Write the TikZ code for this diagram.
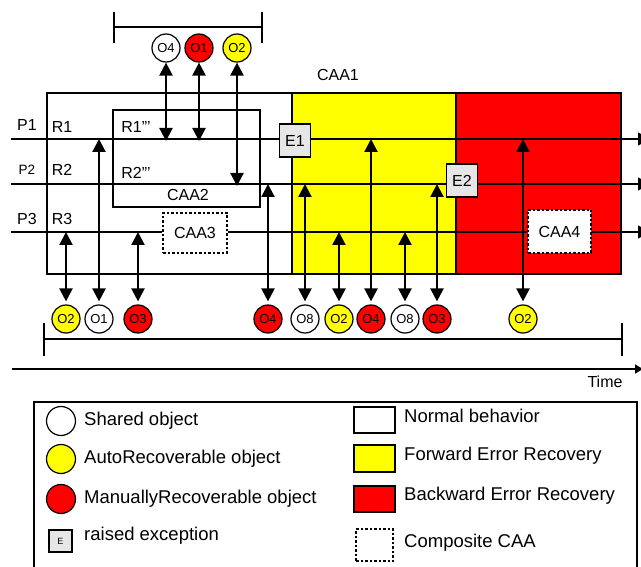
\documentclass[tikz,border=0pt]{standalone}
\usepackage{fontspec}
\setmainfont{Liberation Sans}
\usetikzlibrary{arrows.meta}
\definecolor{ferfill}{HTML}{FFFF00}
\definecolor{berfill}{HTML}{FF0000}
\definecolor{excfill}{HTML}{E6E6E6}

\tikzset{
  obj/.style={circle, draw, line width=1.2pt, minimum size=28pt, inner sep=0pt,
              font=\fontsize{13}{13}\selectfont},
  sharedobj/.style={obj, fill=white},
  autoobj/.style={obj, fill=ferfill},
  manualobj/.style={obj, fill=berfill},
  excbox/.style={draw, fill=excfill, line width=1.2pt, minimum width=31pt,
                 minimum height=33pt, inner sep=0pt, font=\fontsize{16}{16}\selectfont},
  compbox/.style={draw, fill=white, line width=1.2pt, dash pattern=on 2.5pt off 2pt,
                  inner sep=0pt, font=\fontsize{16}{16}\selectfont},
  lbl/.style={inner sep=0pt, font=\fontsize{16}{16}\selectfont},
  smalllbl/.style={inner sep=0pt, font=\fontsize{13.5}{13.5}\selectfont},
  leglbl/.style={inner sep=0pt, anchor=west, font=\fontsize{18.5}{18.5}\selectfont},
  region/.style={draw, line width=1.2pt},
  flow/.style={line width=1.2pt, -{Triangle[length=12pt,width=13pt]}},
  access/.style={line width=2.2pt,
                 {Triangle[length=13pt,width=13pt]}-{Triangle[length=13pt,width=13pt]}},
  bracket/.style={line width=2.5pt},
}

\begin{document}
\begin{tikzpicture}[x=1pt, y=-1pt]
\useasboundingbox (0,0) rectangle (641,567);

% ---- behaviour regions of CAA1 ----
\draw[region, fill=white]    (47,93)  rectangle (292,274);
\draw[region, fill=ferfill]  (292,93) rectangle (456,274);
\draw[region, fill=berfill]  (456,93) rectangle (621,274);
\node[lbl] (caa1) at (338,75) {CAA1};

% nested CAA2
\draw[region] (113,110) rectangle (260,207);
\node[lbl] (caa2) at (188,195) {CAA2};
\node[lbl] (r1n) at (136,127) {R1'''};
\node[lbl] (r2n) at (136,173) {R2'''};

% participants and roles
\node[lbl] (p1) at (27,125) {P1};
\node[lbl] (r1) at (62,127) {R1};
\node[smalllbl] (p2) at (27,170) {P2};
\node[lbl] (r2) at (62,170) {R2};
\node[lbl] (p3) at (27,219) {P3};
\node[lbl] (r3) at (62,219) {R3};

% exceptions and composite CAAs
\node[excbox] (e1) at (295,140.5) {E1};
\node[excbox] (e2) at (462,180.5) {E2};
\node[compbox, minimum width=64pt, minimum height=40pt] (caa3) at (195,233) {CAA3};
\node[compbox, minimum width=63pt, minimum height=43pt] (caa4) at (559.5,231.5) {CAA4};

% process lines
\coordinate (p1s) at (11,139);  \coordinate (p1e) at (650,139);
\coordinate (p2s) at (11,184);  \coordinate (p2e) at (650,184);
\coordinate (p3s) at (11,232);  \coordinate (p3e) at (650,232);
\draw[line width=1.2pt] (p1s) -- (p1s -| e1.west);
\draw[flow] (p1s -| e1.east) -- (p1e);
\draw[line width=1.2pt] (p2s) -- (p2s -| e2.west);
\draw[flow] (p2s -| e2.east) -- (p2e);
\draw[line width=1.2pt] (p3s) -- (p3s -| caa3.west);
\draw[line width=1.2pt] (p3s -| caa3.east) -- (p3s -| caa4.west);
\draw[flow] (p3s -| caa4.east) -- (p3e);

% objects bound to CAA2
\draw[bracket] (114,27) -- (262,27);
\coordinate (tl) at (114,12); \coordinate (tlb) at (114,43);
\coordinate (tr) at (262,12); \coordinate (trb) at (262,43);
\draw[bracket] (tl) -- (tlb);
\draw[bracket] (tr) -- (trb);
\node[sharedobj] (t1) at (166,48) {O4};
\node[manualobj] (t2) at (199,48) {O1};
\node[autoobj]   (t3) at (237,48) {O2};
\draw[access] (t1.south) -- ([yshift=-2pt]t1.south |- p1s);
\draw[access] (t2.south) -- ([yshift=-2pt]t2.south |- p1s);
\draw[access] (t3.south) -- ([yshift=-2pt]t3.south |- p2s);

% objects along the time line
\node[autoobj]   (b1)  at (66,319)  {O2};
\node[sharedobj] (b2)  at (99,319)  {O1};
\node[manualobj] (b3)  at (138,319) {O3};
\node[manualobj] (b4)  at (268,319) {O4};
\node[sharedobj] (b5)  at (305,319) {O8};
\node[autoobj]   (b6)  at (339,319) {O2};
\node[manualobj] (b7)  at (371,319) {O4};
\node[sharedobj] (b8)  at (405,319) {O8};
\node[manualobj] (b9)  at (437,319) {O3};
\node[autoobj]   (b10) at (523,319) {O2};
\draw[access, shorten <=3pt] (b1.north)  -- (b1.north |- p3s);
\draw[access, shorten <=3pt] (b2.north)  -- (b2.north |- p1s);
\draw[access, shorten <=3pt] (b3.north)  -- (b3.north |- p3s);
\draw[access, shorten <=3pt] (b4.north)  -- (b4.north |- p2s);
\draw[access, shorten <=3pt] (b5.north)  -- (b5.north |- p2s);
\draw[access, shorten <=3pt] (b6.north)  -- (b6.north |- p3s);
\draw[access, shorten <=3pt] (b7.north)  -- (b7.north |- p1s);
\draw[access, shorten <=3pt] (b8.north)  -- (b8.north |- p3s);
\draw[access, shorten <=3pt] (b9.north)  -- (b9.north |- p2s);
\draw[access, shorten <=3pt] (b10.north) -- (b10.north |- p1s);

% lifetime of CAA1
\coordinate (bl) at (44,323); \coordinate (blb) at (44,356);
\coordinate (br) at (622,323); \coordinate (brb) at (622,356);
\draw[bracket] (44,339) -- (622,339);
\draw[bracket] (bl) -- (blb);
\draw[bracket] (br) -- (brb);

% time axis
\coordinate (ts) at (12,369); \coordinate (te) at (643,369);
\draw[line width=1.5pt, -{Triangle[length=8pt,width=9pt]}] (ts) -- (te);
\node[lbl, font=\fontsize{16}{16}\selectfont] (time) at (605,382) {Time};

% ---- legend ----
\draw[line width=1.2pt] (34,402) rectangle (637,580);
\node[sharedobj, minimum size=29pt] (ls) at (61,421) {};
\node[autoobj,   minimum size=29pt] (la) at (61,459) {};
\node[manualobj, minimum size=29pt] (lm) at (61,499) {};
\node[excbox, minimum width=23pt, minimum height=22pt, font=\fontsize{9}{9}\selectfont] (le) at (60.5,541) {E};
\node[leglbl] (lst) at (84,421) {Shared object};
\node[leglbl] (lat) at (84,459) {AutoRecoverable object};
\node[leglbl] (lmt) at (84,499) {ManuallyRecoverable object};
\node[leglbl] (let) at (84,536) {raised exception};

\node[region, fill=white,   minimum width=41pt, minimum height=26pt, inner sep=0pt] (ln) at (374.5,420) {};
\node[region, fill=ferfill, minimum width=41pt, minimum height=27pt, inner sep=0pt] (lf) at (374.5,458.5) {};
\node[region, fill=berfill, minimum width=41pt, minimum height=26pt, inner sep=0pt] (lb) at (374.5,499) {};
\node[compbox, minimum width=37pt, minimum height=32pt] (lc) at (374.5,545) {};
\node[leglbl] (lnt) at (404,416) {Normal behavior};
\node[leglbl] (lft) at (404,456) {Forward Error Recovery};
\node[leglbl] (lbt) at (404,496) {Backward Error Recovery};
\node[leglbl] (lct) at (404,543) {Composite CAA};
\end{tikzpicture}
\end{document}
